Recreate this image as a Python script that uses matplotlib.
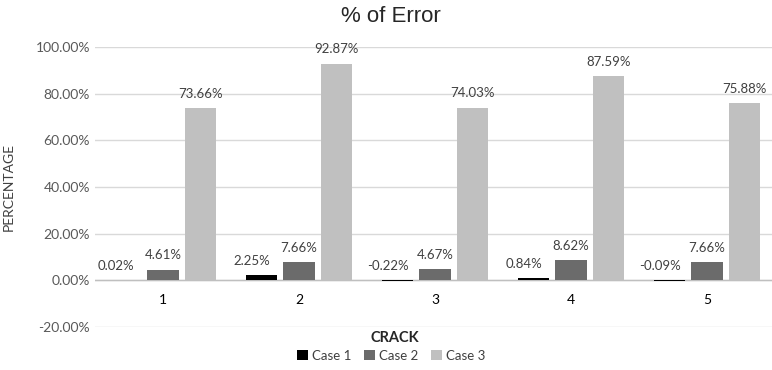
import matplotlib
matplotlib.use("Agg")
import matplotlib.pyplot as plt
import numpy as np

categories = ["1", "2", "3", "4", "5"]
case1 = [0.02, 2.25, -0.22, 0.84, -0.09]
case2 = [4.61, 7.66, 4.67, 8.62, 7.66]
case3 = [73.66, 92.87, 74.03, 87.59, 75.88]
series_names = ["Case 1", "Case 2", "Case 3"]
colors = ["#000000", "#6b6b6b", "#c0c0c0"]
yticks = [-20, 0, 20, 40, 60, 80, 100]

plt.rcParams['font.family'] = ['Lato', 'DejaVu Sans']

fig = plt.figure(figsize=(7.72, 3.70), dpi=100)
ax = fig.add_axes([95/772, 43/370, 677/772, 280/370])

x = np.arange(1, len(categories) + 1)
width = 0.23
step = 0.275
series = [case1, case2, case3]
label_dx = [-7, 0, 0]
for i, (vals, name, col) in enumerate(zip(series, series_names, colors)):
    pos = x + (i - 1) * step
    ax.bar(pos, vals, width=width, color=col, label=name, zorder=3)
    for p, v in zip(pos, vals):
        ax.annotate(f"{v:.2f}%", (p, max(v, 0)), xytext=(label_dx[i], 6),
                    textcoords="offset points", ha="center", va="bottom",
                    fontsize=9.5, color="#404040")

ax.set_xlim(0.5, 0.5 + 677/136)
ax.set_ylim(-20, 100)
ax.set_yticks(yticks)
ax.set_yticklabels([f"{t:.2f}%" for t in yticks], fontsize=10, color="#595959")
ax.set_xticks(x)
ax.set_xticklabels(categories, fontsize=10, color="#595959")
ax.spines['bottom'].set_position(('data', 0))
ax.tick_params(axis='both', length=0)
ax.tick_params(axis='x', pad=10)
ax.grid(axis='y', color="#d9d9d9", linewidth=1, zorder=0)
ax.axhline(0, color="#bfbfbf", linewidth=1, zorder=2)
for s in ax.spines.values():
    s.set_visible(False)

ax.set_ylabel("PERCENTAGE", fontsize=10, color="#404040")
ax.yaxis.set_label_coords(-0.118, 0.5)
fig.text(395/772, 1 - 338/370, "CRACK", ha="center", va="center",
         fontsize=10.5, fontweight="bold", color="#262626")
fig.text(391/772, 1 - 17/370, "% of Error", ha="center", va="center",
         fontsize=16, color="#262626", family=["Liberation Sans", "DejaVu Sans"])

leg = fig.legend(loc="center", bbox_to_anchor=(391/772, 1 - 356/370), ncol=3,
                 frameon=False, fontsize=9.5, handlelength=0.8, handleheight=0.8,
                 handletextpad=0.3, columnspacing=1.0)
for t in leg.get_texts():
    t.set_color("#404040")

fig.savefig("out.png", dpi=100)
